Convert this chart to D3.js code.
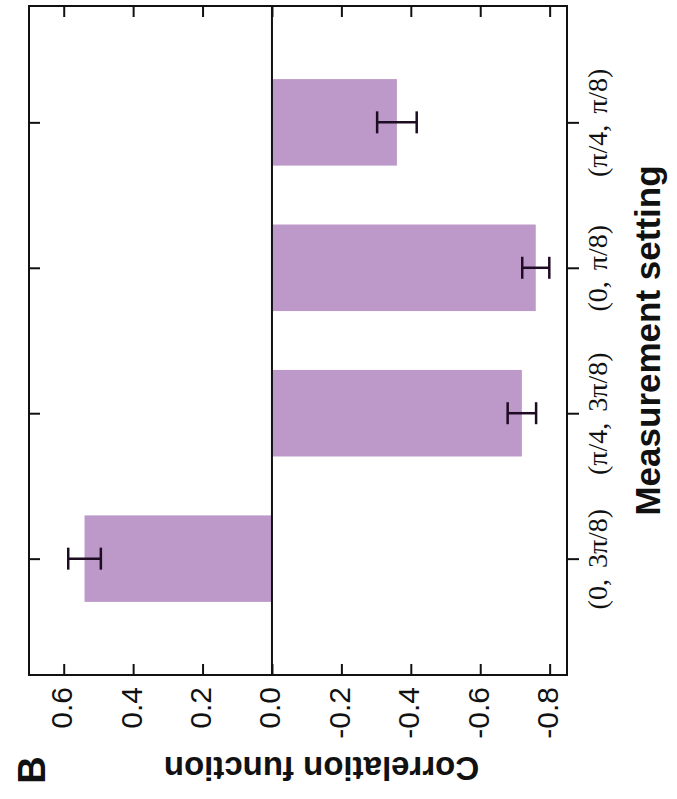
<!DOCTYPE html>
<html>
<head>
<meta charset="utf-8">
<script src="https://cdn.jsdelivr.net/npm/d3@7"></script>
<style>
  html, body { margin: 0; padding: 0; background: #fff; }
  svg { display: block; }
</style>
</head>
<body>
<svg id="chart" width="677" height="799"></svg>
<script>
// ---- data ----
const categories = ["(0, 3\u03c0/8)", "(\u03c0/4, 3\u03c0/8)", "(0, \u03c0/8)", "(\u03c0/4, \u03c0/8)"];
const values = [0.54, -0.72, -0.76, -0.36];
const errors = [0.047, 0.041, 0.039, 0.057];
const tickValues = [0.6, 0.4, 0.2, 0.0, -0.2, -0.4, -0.6, -0.8];
const tickLabels = ["0.6", "0.4", "0.2", "0.0", "-0.2", "-0.4", "-0.6", "-0.8"];
const valueTitle = "Correlation function";
const categoryTitle = "Measurement setting";
const panelLabel = "B";

// ---- layout (chart is shown rotated: value axis horizontal, categories vertical) ----
const pLeft = 29, pRight = 567, pTop = 6, pBottom = 675;
const svg = d3.select("#chart");

const x = d3.scaleLinear().domain([0.7, -0.85]).range([pLeft, pRight]);
const y = d3.scalePoint().domain(categories).range([pBottom, pTop]).padding(0.8);
const barH = y.step() * 0.595;
const barColor = "#bc99c9";
const errColor = "#1e0c22";

// bars
svg.append("g").selectAll("rect")
  .data(categories)
  .join("rect")
  .attr("x", (d, i) => Math.min(x(0), x(values[i])))
  .attr("y", d => y(d) - barH / 2)
  .attr("width", (d, i) => Math.abs(x(values[i]) - x(0)))
  .attr("height", barH)
  .attr("fill", barColor);

// error bars
const eg = svg.append("g").attr("stroke", errColor).attr("stroke-width", 2.5).attr("fill", "none");
categories.forEach((c, i) => {
  const lo = values[i] - errors[i], hi = values[i] + errors[i];
  const cy = y(c);
  eg.append("line").attr("x1", x(lo)).attr("x2", x(hi)).attr("y1", cy).attr("y2", cy);
  eg.append("line").attr("x1", x(lo)).attr("x2", x(lo)).attr("y1", cy - 11).attr("y2", cy + 11);
  eg.append("line").attr("x1", x(hi)).attr("x2", x(hi)).attr("y1", cy - 11).attr("y2", cy + 11);
});

// zero line
svg.append("line")
  .attr("x1", x(0)).attr("x2", x(0)).attr("y1", pTop).attr("y2", pBottom)
  .attr("stroke", "#111").attr("stroke-width", 2);

// frame
svg.append("rect")
  .attr("x", pLeft).attr("y", pTop).attr("width", pRight - pLeft).attr("height", pBottom - pTop)
  .attr("fill", "none").attr("stroke", "#111").attr("stroke-width", 2);

// value axis (bottom) with inward ticks and rotated labels
const axB = svg.append("g").attr("transform", `translate(0,${pBottom})`)
  .call(d3.axisBottom(x).tickValues(tickValues).tickSize(-11).tickFormat((d, i) => tickLabels[i]));
axB.select(".domain").remove();
axB.selectAll(".tick line").attr("stroke", "#111").attr("stroke-width", 2);
axB.selectAll(".tick text")
  .attr("transform", "rotate(-90)")
  .attr("x", -12).attr("y", 0).attr("dy", "8px")
  .attr("text-anchor", "end")
  .attr("font-family", "'Liberation Sans', Arial, sans-serif")
  .attr("font-size", 30)
  .attr("fill", "#111");

// value axis (top) mirrored ticks
const axT = svg.append("g").attr("transform", `translate(0,${pTop})`)
  .call(d3.axisTop(x).tickValues(tickValues).tickSize(-11).tickFormat(""));
axT.select(".domain").remove();
axT.selectAll(".tick line").attr("stroke", "#111").attr("stroke-width", 2);

// category axis (right) with outward ticks and rotated labels
const axR = svg.append("g").attr("transform", `translate(${pRight},0)`)
  .call(d3.axisRight(y).tickSize(12));
axR.select(".domain").remove();
axR.selectAll(".tick line").attr("stroke", "#111").attr("stroke-width", 2);
axR.selectAll(".tick text")
  .attr("transform", "rotate(-90)")
  .attr("x", 0).attr("y", 0).attr("dy", "40px")
  .attr("text-anchor", "middle")
  .attr("font-family", "'Liberation Serif', 'Times New Roman', serif")
  .attr("font-size", 28)
  .attr("word-spacing", "4px")
  .attr("fill", "#111");

// category axis (left) inward ticks
const axL = svg.append("g").attr("transform", `translate(${pLeft},0)`)
  .call(d3.axisLeft(y).tickSize(-11).tickFormat(""));
axL.select(".domain").remove();
axL.selectAll(".tick line").attr("stroke", "#111").attr("stroke-width", 2);

// titles
svg.append("text")
  .attr("transform", `translate(660,${(pTop + pBottom) / 2}) rotate(-90)`)
  .attr("text-anchor", "middle")
  .attr("font-family", "'Liberation Sans', Arial, sans-serif")
  .attr("font-weight", "bold")
  .attr("font-size", 35)
  .attr("fill", "#111")
  .text(categoryTitle);

svg.append("text")
  .attr("transform", `translate(321.5,757) rotate(180)`)
  .attr("text-anchor", "middle")
  .attr("font-family", "'Liberation Sans', Arial, sans-serif")
  .attr("font-weight", "bold")
  .attr("font-size", 33)
  .attr("fill", "#111")
  .text(valueTitle);

svg.append("text")
  .attr("transform", `translate(45,770) rotate(-90)`)
  .attr("text-anchor", "middle")
  .attr("font-family", "'Liberation Sans', Arial, sans-serif")
  .attr("font-weight", "bold")
  .attr("font-size", 38)
  .attr("fill", "#111")
  .text(panelLabel);
</script>
</body>
</html>
